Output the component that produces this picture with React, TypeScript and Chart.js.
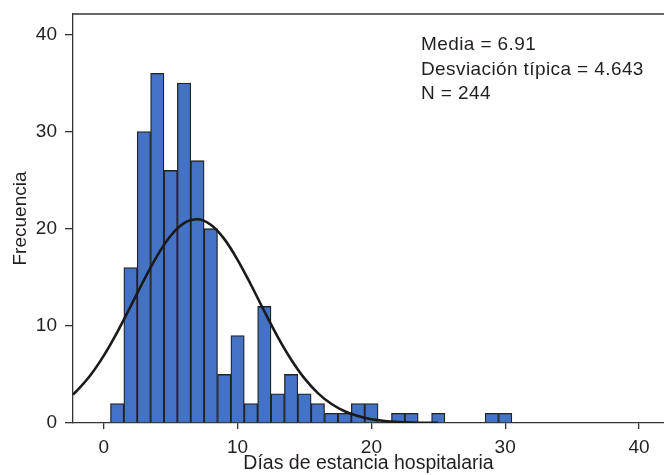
import React, { useEffect, useRef } from "react";
import { Chart, registerables } from "chart.js";

Chart.register(...registerables);

const binCenters = [1, 2, 3, 4, 5, 6, 7, 8, 9, 10, 11, 12, 13, 14, 15, 16, 17, 18, 19, 20, 21, 22, 23, 24, 25, 26, 27, 28, 29, 30];
const frequencies = [2, 16, 30, 36, 26, 35, 27, 20, 5, 9, 2, 12, 3, 5, 3, 2, 1, 1, 2, 2, 0, 1, 1, 0, 1, 0, 0, 0, 1, 1];

const curveX = [-2.3, -2, -1, 0, 1, 2, 3, 4, 5, 6, 7, 8, 9, 10, 11, 12, 13, 14, 15, 16, 17, 18, 19, 20, 21, 22, 23, 24, 25];
const curveY = [2.93, 3.33, 4.91, 6.93, 9.33, 11.99, 14.71, 17.23, 19.27, 20.57, 20.97, 20.4, 18.95, 16.8, 14.23, 11.5, 8.87, 6.54, 4.59, 3.08, 1.98, 1.21, 0.71, 0.39, 0.21, 0.11, 0.05, 0.02, 0.01];

const xTicks = [0, 10, 20, 30, 40];
const yTicks = [0, 10, 20, 30, 40];

const statLines = ["Media = 6.91", "Desviación típica = 4.643", "N = 244"];
const xTitle = "Días de estancia hospitalaria";
const yTitle = "Frecuencia";

const FONT = "'Liberation Sans', Arial, Helvetica, sans-serif";
const AXIS = "#333333";
const TEXT = "#231f20";

export default function App() {
  const ref = useRef<HTMLCanvasElement | null>(null);

  useEffect(() => {
    if (!ref.current) return;

    const framePlugin = {
      id: "frameAndStats",
      afterDraw(chart: any) {
        const { ctx, chartArea } = chart;
        ctx.save();
        ctx.strokeStyle = AXIS;
        ctx.lineWidth = 1.3;
        ctx.beginPath();
        ctx.moveTo(chartArea.left, chartArea.top);
        ctx.lineTo(chartArea.right, chartArea.top);
        ctx.stroke();
        ctx.fillStyle = TEXT;
        ctx.font = `19px ${FONT}`;
        try {
          (ctx as any).letterSpacing = "0.4px";
        } catch (e) {}
        ctx.textBaseline = "alphabetic";
        ctx.textAlign = "left";
        const baseY = 50;
        statLines.forEach((s, i) => {
          ctx.fillText(s, 421, baseY + i * 24.7);
        });
        ctx.restore();
      },
    };

    const chart = new Chart(ref.current, {
      type: "bar",
      data: {
        datasets: [
          {
            type: "line",
            data: curveX.map((x, i) => ({ x, y: curveY[i] })),
            borderColor: "#1a1a1a",
            borderWidth: 2.6,
            pointRadius: 0,
            cubicInterpolationMode: "monotone",
            fill: false,
            order: 0,
          } as any,
          {
            type: "bar",
            data: binCenters.map((x, i) => ({ x, y: frequencies[i] })),
            backgroundColor: "#4472c4",
            borderColor: "#232323",
            borderWidth: 1.3,
            barPercentage: 1,
            categoryPercentage: 1,
            order: 1,
          } as any,
        ],
      },
      options: {
        animation: false,
        responsive: false,
        devicePixelRatio: 1,
        layout: { padding: { top: 14, left: 0, right: 0, bottom: 0 } },
        plugins: {
          legend: { display: false },
          tooltip: { enabled: false },
        },
        scales: {
          x: {
            type: "linear",
            offset: false,
            min: -2.3,
            max: 41.87,
            afterBuildTicks: (scale: any) => {
              scale.ticks = xTicks.map((v) => ({ value: v }));
            },
            afterFit: (scale: any) => {
              scale.height = 52;
              scale.paddingLeft = 0;
              scale.paddingRight = 0;
            },
            grid: {
              offset: false,
              drawOnChartArea: false,
              drawTicks: true,
              tickLength: 6,
              color: AXIS,
              lineWidth: 1.3,
            },
            border: { display: true, color: AXIS, width: 1.3 },
            ticks: {
              color: TEXT,
              font: { family: FONT, size: 19 },
              padding: 7,
              maxRotation: 0,
              autoSkip: false,
            },
            title: {
              display: true,
              text: xTitle,
              color: TEXT,
              font: { family: FONT, size: 19.5 },
              padding: { top: -10, bottom: 0 },
            },
          },
          y: {
            type: "linear",
            min: 0,
            max: 42.1,
            afterBuildTicks: (scale: any) => {
              scale.ticks = yTicks.map((v) => ({ value: v }));
            },
            afterFit: (scale: any) => {
              scale.width = 73;
              scale.paddingTop = 0;
              scale.paddingBottom = 0;
            },
            grid: {
              drawOnChartArea: false,
              drawTicks: true,
              tickLength: 8,
              color: AXIS,
              lineWidth: 1.3,
            },
            border: { display: true, color: AXIS, width: 1.3 },
            ticks: {
              color: TEXT,
              font: { family: FONT, size: 19 },
              padding: 8,
              autoSkip: false,
            },
            title: {
              display: true,
              text: yTitle,
              color: TEXT,
              font: { family: FONT, size: 19 },
              padding: { top: 9, bottom: 0 },
            },
          },
        },
      } as any,
      plugins: [framePlugin],
    });

    return () => chart.destroy();
  }, []);

  return (
    <div style={{ position: "absolute", left: 0, top: 0, width: 664, height: 475, background: "#fff" }}>
      <canvas ref={ref} width={664} height={475} style={{ display: "block", width: 664, height: 475 }} />
    </div>
  );
}
